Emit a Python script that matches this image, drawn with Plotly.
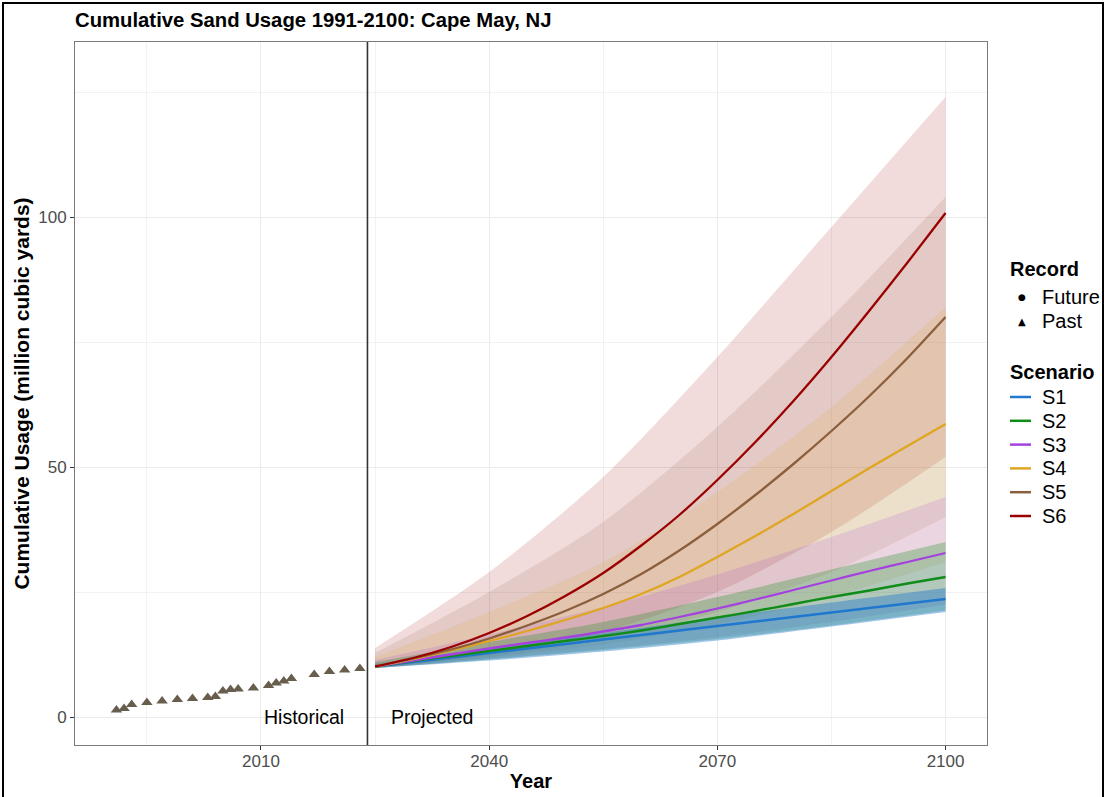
import plotly.graph_objects as go

# Historical cumulative usage (million cubic yards)
past_years = [1991, 1992, 1993, 1995, 1997, 1999, 2001, 2003, 2004, 2005, 2006,
              2007, 2009, 2011, 2012, 2013, 2014, 2017, 2019, 2021, 2023]
past_usage = [1.4, 1.7, 2.5, 2.9, 3.2, 3.5, 3.7, 3.9, 4.1, 5.2, 5.5,
              5.6, 5.8, 6.3, 6.8, 7.2, 7.7, 8.5, 9.1, 9.4, 9.7]

# Scenario mean trajectories, every 5 years
mean_years = [2025, 2030, 2035, 2040, 2045, 2050, 2055, 2060,
              2065, 2070, 2075, 2080, 2085, 2090, 2095, 2100]
s1_mean = [10.1, 11.0, 11.9, 12.8, 13.7, 14.6, 15.5, 16.4,
           17.3, 18.2, 19.1, 20.0, 20.9, 21.8, 22.7, 23.6]
s2_mean = [10.1, 11.2, 12.2, 13.2, 14.2, 15.2, 16.2, 17.3,
           18.6, 19.9, 21.2, 22.6, 24.0, 25.3, 26.7, 28.0]
s3_mean = [10.1, 11.3, 12.5, 13.7, 14.8, 15.9, 17.1, 18.4,
           20.0, 21.7, 23.5, 25.4, 27.3, 29.2, 31.0, 32.8]
s4_mean = [10.1, 11.6, 13.3, 15.2, 17.2, 19.4, 21.8, 24.6,
           28.0, 32.0, 36.2, 40.6, 45.2, 49.8, 54.2, 58.6]
s5_mean = [10.1, 11.7, 13.5, 15.7, 18.3, 21.2, 24.6, 28.6,
           33.3, 38.6, 44.4, 50.6, 57.2, 64.2, 71.8, 80.0]
s6_mean = [10.1, 11.8, 14.0, 16.8, 20.2, 24.2, 28.8, 34.3,
           40.4, 47.4, 55.0, 63.2, 72.0, 81.3, 90.9, 100.8]

# Spread of the simulated runs (lower / upper extent), every 15 years
band_years = [2025, 2040, 2055, 2070, 2085, 2100]
s1_low = [9.8, 11.3, 13.1, 15.3, 18.1, 21.0]
s1_high = [10.6, 13.8, 16.8, 19.9, 22.9, 25.8]
s2_low = [9.8, 11.5, 13.4, 15.6, 18.3, 21.3]
s2_high = [11.0, 15.0, 19.0, 24.0, 29.5, 35.0]
s3_low = [9.8, 11.6, 13.6, 16.0, 19.0, 22.5]
s3_high = [11.4, 16.5, 22.0, 28.5, 36.0, 44.0]
s4_low = [9.8, 11.8, 14.5, 18.5, 24.0, 31.0]
s4_high = [12.0, 21.0, 31.0, 45.0, 62.0, 82.0]
s5_low = [9.8, 12.0, 15.5, 21.0, 29.0, 40.0]
s5_high = [12.8, 25.0, 39.0, 58.0, 80.0, 104.0]
s6_low = [9.8, 12.5, 17.0, 25.0, 37.0, 52.0]
s6_high = [13.8, 29.0, 48.0, 72.0, 98.0, 124.0]

scenarios = ["S1", "S2", "S3", "S4", "S5", "S6"]
x_ticks = [2010, 2040, 2070, 2100]
x_minor = [1995, 2025, 2055, 2085]
y_ticks = [0, 50, 100]
y_minor = [25, 75, 125]
split_year = 2024

colors = {"S1": (31, 120, 205), "S2": (16, 140, 24), "S3": (164, 65, 224),
          "S4": (222, 166, 33), "S5": (139, 94, 60), "S6": (155, 0, 0)}
band_alpha = {"S1": 0.42, "S2": 0.28, "S3": 0.16, "S4": 0.14, "S5": 0.13, "S6": 0.14}

means = dict(zip(scenarios, [s1_mean, s2_mean, s3_mean, s4_mean, s5_mean, s6_mean]))
lows = dict(zip(scenarios, [s1_low, s2_low, s3_low, s4_low, s5_low, s6_low]))
highs = dict(zip(scenarios, [s1_high, s2_high, s3_high, s4_high, s5_high, s6_high]))

FONT = "Liberation Sans, Arial, sans-serif"
W, H = 1105, 797
L, R, T, B = 75, 118, 42, 52
pw, ph = W - L - R, H - T - B


def px_x(p):
    return (p - L) / pw


def px_y(p):
    return (H - B - p) / ph


fig = go.Figure()

# simulation spread bands
for s in reversed(scenarios):
    r, g, b = colors[s]
    fig.add_trace(go.Scatter(x=band_years, y=lows[s], mode="lines",
                             line=dict(width=0, shape="spline", smoothing=0.8),
                             showlegend=False, hoverinfo="skip"))
    fig.add_trace(go.Scatter(x=band_years, y=highs[s], mode="lines",
                             line=dict(width=0, shape="spline", smoothing=0.8),
                             fill="tonexty", fillcolor=f"rgba({r},{g},{b},{band_alpha[s]})",
                             showlegend=False, hoverinfo="skip"))

# past record
fig.add_trace(go.Scatter(x=past_years, y=past_usage, mode="markers",
                         marker=dict(symbol="triangle-up", size=10, color="#685e4e"),
                         showlegend=False))

# scenario means
for s in scenarios:
    r, g, b = colors[s]
    fig.add_trace(go.Scatter(x=mean_years, y=means[s], mode="lines", name=s,
                             line=dict(color=f"rgb({r},{g},{b})", width=2.3,
                                       shape="spline", smoothing=0.6),
                             showlegend=False))

axis_common = dict(ticks="outside", ticklen=4, tickcolor="#333333",
                   tickfont=dict(family=FONT, size=17, color="#4d4d4d"),
                   showgrid=True, gridcolor="#ebebeb", gridwidth=1.1,
                   showline=True, linecolor="#7a7a7a", linewidth=1, mirror=True,
                   zeroline=False, automargin=False)

# legend drawn as annotations and shapes
LEG_X = 1008
annotations = [
    dict(text="<b>Record</b>", x=px_x(LEG_X), y=px_y(269), xanchor="left", yanchor="middle",
         font=dict(size=20)),
    dict(text="●", x=px_x(1022), y=px_y(297), xanchor="center", yanchor="middle",
         font=dict(family="DejaVu Sans", size=9)),
    dict(text="Future", x=px_x(1040), y=px_y(297), xanchor="left", yanchor="middle",
         font=dict(size=20)),
    dict(text="▲", x=px_x(1022), y=px_y(321), xanchor="center", yanchor="middle",
         font=dict(family="DejaVu Sans", size=10)),
    dict(text="Past", x=px_x(1040), y=px_y(321), xanchor="left", yanchor="middle",
         font=dict(size=20)),
    dict(text="<b>Scenario</b>", x=px_x(LEG_X), y=px_y(372), xanchor="left", yanchor="middle",
         font=dict(size=20)),
]
shapes = []
for i, s in enumerate(scenarios):
    yy = px_y(397 + 23.8 * i)
    r, g, b = colors[s]
    shapes.append(dict(type="line", xref="paper", yref="paper", x0=px_x(1010), x1=px_x(1031),
                       y0=yy, y1=yy, line=dict(color=f"rgb({r},{g},{b})", width=2.5)))
    annotations.append(dict(text=s, x=px_x(1040), y=yy, xanchor="left", yanchor="middle",
                            font=dict(size=20)))

for a in annotations:
    a.update(xref="paper", yref="paper", showarrow=False)
    a["font"] = dict(family=a["font"].get("family", FONT), size=a["font"]["size"], color="black")

annotations += [
    dict(text="Historical", x=split_year - 2.8, y=0, xref="x", yref="y",
         xanchor="right", yanchor="middle", showarrow=False,
         font=dict(family=FONT, size=19.5, color="black")),
    dict(text="Projected", x=split_year + 2.8, y=0, xref="x", yref="y",
         xanchor="left", yanchor="middle", showarrow=False,
         font=dict(family=FONT, size=19.5, color="black")),
]

shapes += [
    dict(type="line", xref="x", yref="paper", x0=split_year, x1=split_year,
         y0=0, y1=1, line=dict(color="#333333", width=1.6)),
    dict(type="rect", xref="paper", yref="paper",
         x0=px_x(3), x1=px_x(1103), y0=px_y(805), y1=px_y(3),
         line=dict(color="black", width=2), layer="above"),
]

fig.update_layout(
    width=W, height=H,
    margin=dict(l=L, r=R, t=T, b=B),
    paper_bgcolor="white", plot_bgcolor="white",
    font=dict(family=FONT, size=17, color="black"),
    showlegend=False,
    title=dict(text="<b>Cumulative Sand Usage 1991-2100: Cape May, NJ</b>",
               x=px_x(75), xref="paper", xanchor="left",
               y=1 - 20 / H, yanchor="middle",
               font=dict(family=FONT, size=20.3, color="black")),
    xaxis=dict(range=[1985.55, 2105.45], tickvals=x_ticks, ticklabelstandoff=-3,
               minor=dict(tickvals=x_minor, showgrid=True, gridcolor="#f2f2f2",
                          gridwidth=1, ticks=""),
               title=dict(text="<b>Year</b>", standoff=3,
                          font=dict(family=FONT, size=20, color="black")),
               **axis_common),
    yaxis=dict(range=[-5.6, 135], tickvals=y_ticks,
               minor=dict(tickvals=y_minor, showgrid=True, gridcolor="#f2f2f2",
                          gridwidth=1, ticks=""),
               title=dict(text="<b>Cumulative Usage (million cubic yards)</b>", standoff=2,
                          font=dict(family=FONT, size=21, color="black")),
               **axis_common),
    shapes=shapes,
    annotations=annotations,
)

fig.write_html("out.html")
